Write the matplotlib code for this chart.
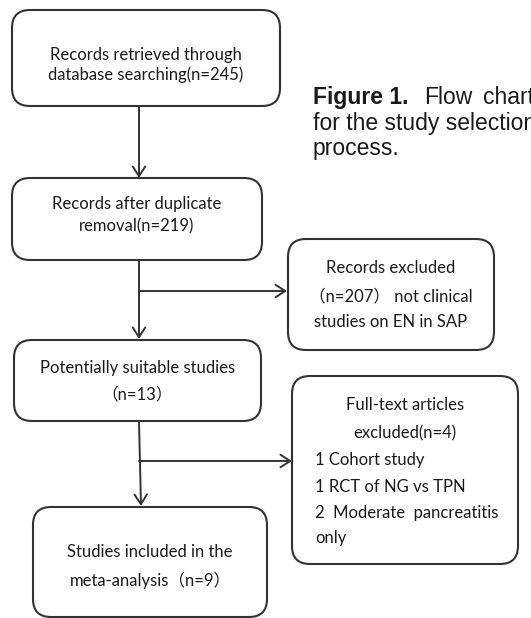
import matplotlib
matplotlib.use("Agg")
import matplotlib.pyplot as plt
from matplotlib.patches import FancyBboxPatch

# ---- data: flowchart content ----
box_texts = [
    ["Records retrieved through", "database searching(n=245)"],
    ["Records after duplicate", "removal(n=219)"],
    ["Records excluded", "（n=207） not clinical", "studies on EN in SAP"],
    ["Potentially suitable studies", "（n=13）"],
    ["Full-text articles", "excluded(n=4)"],
    ["Studies included in the", "meta-analysis（n=9）"],
]
excluded_reasons = ["1 Cohort study", "1 RCT of NG vs TPN", "2  Moderate  pancreatitis", "only"]
caption_bold = "Figure 1."
caption_lines = ["Flow", "chart", "for the study selection", "process."]

# ---- layout (pixels) ----
W, H = 531, 618
boxes = [  # x0, y0, x1, y1
    (12, 10, 280, 106),
    (12, 178, 262, 260),
    (288, 239, 494, 350),
    (14, 340, 261, 421),
    (292, 376, 518, 564),
    (33, 507, 267, 617),
]
text_y = [
    [55, 75],
    [204, 226],
    [268, 296, 322],
    [368, 394],
    [405, 433],
    [552, 580],
]
reason_y = [460, 487, 513, 538]

fig = plt.figure(figsize=(W / 100, H / 100), dpi=100)
ax = fig.add_axes([0, 0, 1, 1])
ax.set_xlim(0, W)
ax.set_ylim(H, 0)
ax.axis("off")

fam = ["Lato", "Noto Sans CJK SC", "DejaVu Sans"]
tc = "#1a1a1a"
ec = "#333333"
fs = 12

for (x0, y0, x1, y1), lines, ys in zip(boxes, box_texts, text_y):
    p = FancyBboxPatch((x0, y0), x1 - x0, y1 - y0,
                       boxstyle="round,pad=0,rounding_size=18",
                       fc="white", ec=ec, lw=1.5)
    ax.add_patch(p)
    cx = (x0 + x1) / 2
    for t, y in zip(lines, ys):
        ax.text(cx, y, t, ha="center", va="center", fontsize=fs,
                family=fam, color=tc)

for t, y in zip(excluded_reasons, reason_y):
    ax.text(315, y, t, ha="left", va="center", fontsize=fs, family=fam, color=tc)

def arrow(x0, y0, x1, y1):
    ax.annotate("", xy=(x1, y1), xytext=(x0, y0),
                arrowprops=dict(arrowstyle="->,head_length=0.7,head_width=0.45",
                                color=ec, lw=1.4, shrinkA=0, shrinkB=0))

# vertical arrows
arrow(139, 106, 139, 178)
arrow(139, 260, 139, 339)
arrow(139, 421, 141, 506)
# horizontal branches
arrow(139, 291, 287, 291)
arrow(139, 461, 292, 461)

# caption
cfs = 16.5
cfam = "Liberation Sans"
ax.text(313, 104, caption_bold, ha="left", va="baseline", fontsize=cfs,
        family=cfam, weight="bold", color=tc)
ax.text(424, 104, caption_lines[0], ha="left", va="baseline", fontsize=cfs,
        family=cfam, color=tc)
ax.text(483, 104, caption_lines[1], ha="left", va="baseline", fontsize=cfs,
        family=cfam, color=tc)
ax.text(313, 130, caption_lines[2], ha="left", va="baseline", fontsize=cfs,
        family=cfam, color=tc)
ax.text(313, 155, caption_lines[3], ha="left", va="baseline", fontsize=cfs,
        family=cfam, color=tc)

fig.savefig("out.png", dpi=100)
